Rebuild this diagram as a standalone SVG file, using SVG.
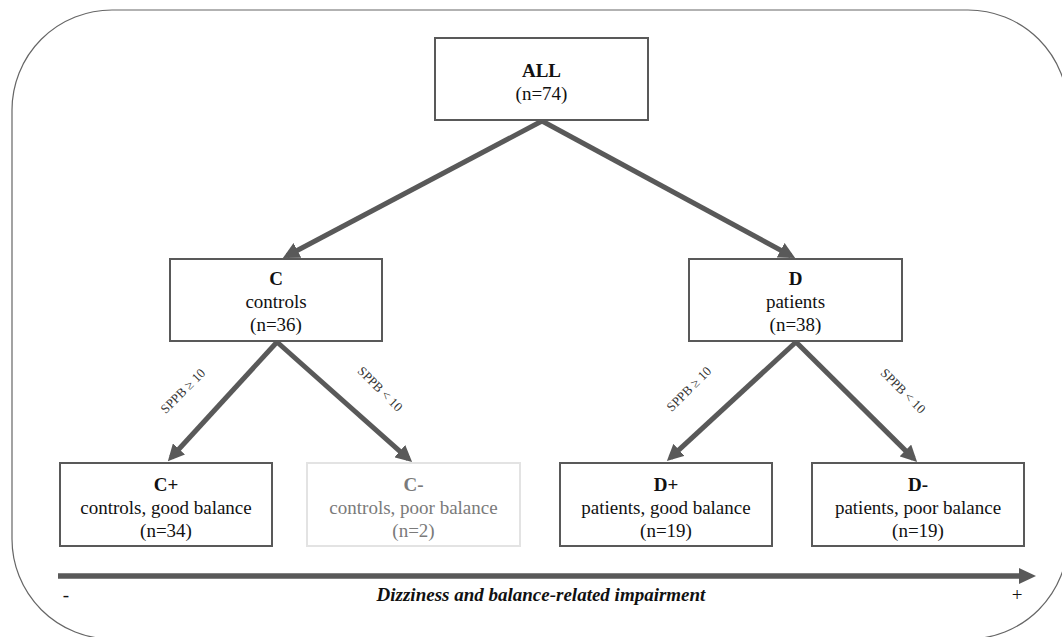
<svg xmlns="http://www.w3.org/2000/svg" width="1062" height="637" viewBox="0 0 1062 637">
<style>
.box{fill:#fff;stroke:#595959;stroke-width:2}
.faint{fill:#fff;stroke:#e3e3e3;stroke-width:2}
text{font-family:'Liberation Serif','DejaVu Serif','Times New Roman',serif}
.t{font-size:19px;fill:#111;text-anchor:middle}
.b{font-weight:bold}
.g{fill:#7a7a7a}
.lbl{font-size:13px;fill:#333;text-anchor:middle}
.con{stroke:#595959;stroke-width:5;fill:none}
</style>
<defs>
<marker id="ah" viewBox="0 0 10 10" refX="7" refY="5" markerWidth="3.3" markerHeight="3.3" orient="auto" markerUnits="strokeWidth">
<path d="M0,0 L10,5 L0,10 Z" fill="#595959"/>
</marker>
</defs>
<rect x="12" y="10" width="1056" height="629" rx="100" ry="100" fill="#fff" stroke="#666" stroke-width="1.2"/>
<g id="connectors">
<line class="con" x1="542" y1="121" x2="287.2" y2="255.8" marker-end="url(#ah)"/>
<line class="con" x1="542" y1="121" x2="790.8" y2="255.7" marker-end="url(#ah)"/>
<line class="con" x1="277" y1="342" x2="171.2" y2="457.5" marker-end="url(#ah)"/>
<line class="con" x1="277" y1="342" x2="408.4" y2="458.8" marker-end="url(#ah)"/>
<line class="con" x1="796" y1="342" x2="670.5" y2="457.7" marker-end="url(#ah)"/>
<line class="con" x1="796" y1="342" x2="913.6" y2="458.6" marker-end="url(#ah)"/>
<text class="lbl" transform="translate(186,394) rotate(-45)">SPPB ≥ 10</text>
<text class="lbl" transform="translate(377,392) rotate(45)">SPPB &lt; 10</text>
<text class="lbl" transform="translate(692,392) rotate(-45)">SPPB ≥ 10</text>
<text class="lbl" transform="translate(900,394) rotate(45)">SPPB &lt; 10</text>
</g>
<g id="ALL">
<rect class="box" x="435" y="38" width="213" height="82"/>
<text class="t b" x="541.5" y="77">ALL</text>
<text class="t" x="541.5" y="100">(n=74)</text>
</g>
<g id="C">
<rect class="box" x="170" y="259" width="212" height="82"/>
<text class="t b" x="276" y="285">C</text>
<text class="t" x="276" y="308">controls</text>
<text class="t" x="276" y="331">(n=36)</text>
</g>
<g id="D">
<rect class="box" x="689" y="259" width="213" height="82"/>
<text class="t b" x="795.5" y="285">D</text>
<text class="t" x="795.5" y="308">patients</text>
<text class="t" x="795.5" y="331">(n=38)</text>
</g>
<g id="Cplus">
<rect class="box" x="60" y="463" width="212" height="83"/>
<text class="t b" x="166" y="491">C+</text>
<text class="t" x="166" y="514">controls, good balance</text>
<text class="t" x="166" y="537">(n=34)</text>
</g>
<g id="Cminus">
<rect class="faint" x="307" y="463" width="213" height="83"/>
<text class="t b g" x="413.5" y="491">C-</text>
<text class="t g" x="413.5" y="514">controls, poor balance</text>
<text class="t g" x="413.5" y="537">(n=2)</text>
</g>
<g id="Dplus">
<rect class="box" x="560" y="463" width="212" height="83"/>
<text class="t b" x="666" y="491">D+</text>
<text class="t" x="666" y="514">patients, good balance</text>
<text class="t" x="666" y="537">(n=19)</text>
</g>
<g id="Dminus">
<rect class="box" x="812" y="463" width="212" height="83"/>
<text class="t b" x="918" y="491">D-</text>
<text class="t" x="918" y="514">patients, poor balance</text>
<text class="t" x="918" y="537">(n=19)</text>
</g>
<g id="axis">
<line x1="58" y1="576" x2="1022" y2="576" stroke="#595959" stroke-width="5.5"/>
<path d="M1019,568 L1036,576 L1019,584 Z" fill="#595959"/>
<text class="t b" x="541" y="601" font-style="italic" font-size="18.5">Dizziness and balance-related impairment</text>
<text class="t" x="66" y="601" font-size="15">-</text>
<text class="t" x="1017" y="601" font-size="15">+</text>
</g>
</svg>
